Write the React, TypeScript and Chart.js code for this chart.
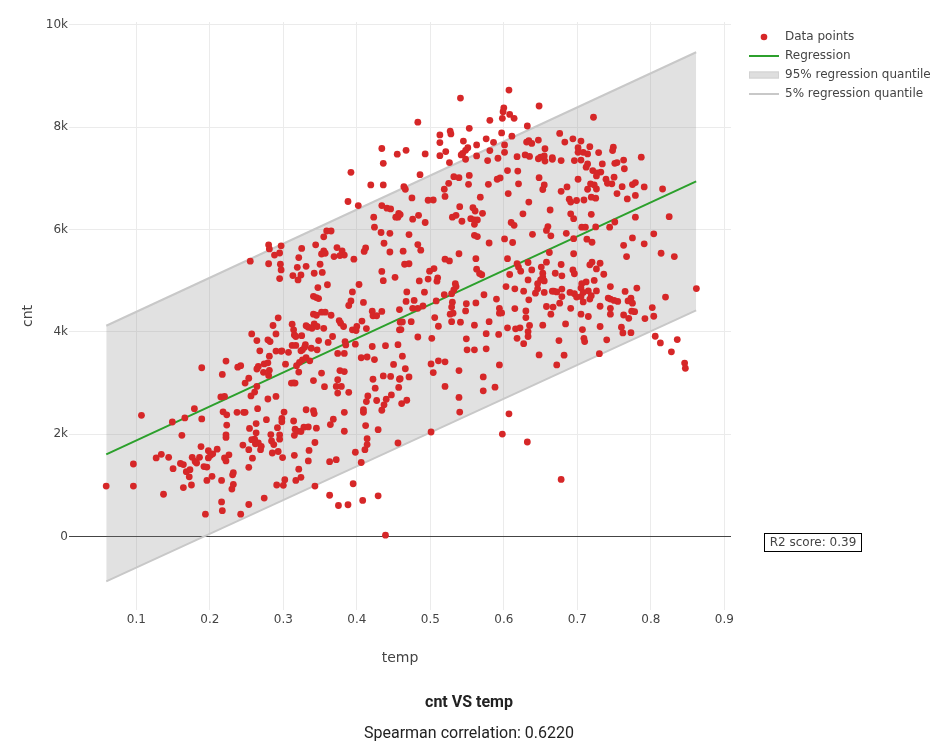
import React, { useEffect, useRef } from 'react'
import { Chart, registerables, ChartConfiguration, Plugin } from 'chart.js'

Chart.register(...registerables)

// [temp, cnt]
const points: [number, number][] = [
  [0.059, 990], [0.096, 990], [0.096, 1420], [0.107, 2370], [0.137, 830], [0.127, 1540], [0.134, 1610], [0.144, 1550],
  [0.149, 2240], [0.150, 1330], [0.162, 1980], [0.160, 1430], [0.164, 1410], [0.166, 2320], [0.164, 960], [0.168, 1270],
  [0.173, 1310], [0.172, 1170], [0.175, 1010], [0.176, 1550], [0.179, 2500], [0.180, 1470], [0.182, 1440], [0.186, 1550],
  [0.188, 1760], [0.189, 3300], [0.189, 2300], [0.192, 1370], [0.196, 1360], [0.194, 440], [0.196, 1100], [0.198, 1680],
  [0.198, 1540], [0.201, 1590], [0.203, 1180], [0.204, 1620], [0.210, 1710], [0.216, 1100], [0.216, 680], [0.217, 510],
  [0.217, 3170], [0.222, 3430], [0.215, 2730], [0.220, 2740], [0.218, 2440], [0.223, 2380], [0.220, 1540], [0.222, 1480],
  [0.223, 2180], [0.222, 1990], [0.222, 1940], [0.226, 1600], [0.230, 930], [0.231, 1210], [0.232, 1250], [0.232, 1020],
  [0.237, 2430], [0.238, 3310], [0.242, 3340], [0.242, 440], [0.245, 1790], [0.246, 2430],
  [0.255, 5380], [0.280, 5700], [0.281, 5620], [0.297, 5680], [0.288, 5500], [0.295, 5540], [0.280, 5330], [0.296, 5320],
  [0.297, 5210], [0.295, 5040], [0.313, 5100], [0.319, 5260], [0.325, 5630], [0.321, 5450], [0.331, 5280], [0.324, 5110],
  [0.320, 5015], [0.344, 5700], [0.355, 5580], [0.352, 5520], [0.357, 5535], [0.350, 5320], [0.353, 5160], [0.342, 5145],
  [0.355, 5855], [0.359, 5970], [0.365, 5970], [0.373, 5645], [0.380, 5580], [0.383, 5500], [0.369, 5470], [0.377, 5490],
  [0.396, 5420], [0.410, 5570], [0.412, 5640], [0.360, 4920], [0.347, 4865], [0.345, 4670], [0.341, 4695], [0.348, 4650],
  [0.433, 5940], [0.445, 5925], [0.437, 5730], [0.445, 5560], [0.434, 5180], [0.436, 5000], [0.452, 5065], [0.403, 4925],
  [0.394, 4780], [0.392, 4605], [0.389, 4515], [0.409, 4575], [0.421, 4405], [0.422, 4315], [0.427, 4315], [0.434, 4400],
  [0.458, 4435],
  [0.293, 4275], [0.286, 4125], [0.290, 3960], [0.257, 3960], [0.264, 3830], [0.268, 3630], [0.279, 3845], [0.282, 3810],
  [0.281, 3525], [0.290, 3625], [0.297, 3620], [0.307, 3600], [0.298, 3630], [0.312, 3735], [0.317, 3735], [0.314, 4040],
  [0.312, 4150], [0.315, 3940], [0.317, 3910], [0.325, 3925], [0.331, 4120], [0.334, 4090], [0.341, 4345], [0.345, 4325],
  [0.342, 4155], [0.339, 4070], [0.346, 4105], [0.352, 4385], [0.357, 4385], [0.365, 4325], [0.376, 4220], [0.378, 4170],
  [0.382, 4105], [0.367, 3910], [0.355, 4070], [0.338, 3680], [0.346, 3650], [0.348, 3830], [0.361, 3795], [0.330, 3750],
  [0.326, 3650], [0.329, 3700], [0.324, 3630], [0.331, 3495], [0.326, 3455], [0.322, 3405], [0.318, 3340], [0.321, 3215],
  [0.336, 3435], [0.303, 3370], [0.266, 3325], [0.264, 3275], [0.274, 3375], [0.279, 3395], [0.273, 3210], [0.280, 3150],
  [0.281, 3250], [0.253, 3095], [0.248, 3000], [0.264, 2935], [0.261, 2825], [0.256, 2750], [0.279, 2690], [0.290, 2740],
  [0.314, 3005], [0.311, 3000], [0.316, 3000], [0.341, 3050], [0.352, 3195], [0.356, 2930], [0.372, 2935], [0.379, 2935],
  [0.374, 2805], [0.374, 3065], [0.377, 3245], [0.383, 3225], [0.389, 2820], [0.374, 3580], [0.383, 3580], [0.384, 3810],
  [0.385, 3745], [0.398, 3760], [0.394, 4040], [0.400, 4105], [0.399, 4025], [0.407, 4210], [0.413, 4065], [0.406, 3495],
  [0.414, 3510], [0.424, 3460], [0.421, 3715], [0.439, 3730], [0.456, 3750], [0.450, 3365], [0.436, 3140], [0.446, 3130],
  [0.458, 3075], [0.457, 2915], [0.425, 2900], [0.422, 3075], [0.415, 2750], [0.413, 2640], [0.427, 2660], [0.434, 2470],
  [0.437, 2575], [0.440, 2685], [0.447, 2770], [0.458, 4040], [0.459, 4190],
  [0.248, 2430], [0.265, 2500], [0.254, 2115], [0.263, 2210], [0.277, 2285], [0.283, 1995], [0.295, 1990], [0.295, 1905],
  [0.292, 2130], [0.298, 2310], [0.298, 2245], [0.301, 2435], [0.314, 2260], [0.316, 2100], [0.319, 2060], [0.315, 1980],
  [0.324, 2055], [0.328, 2140], [0.334, 2145], [0.331, 2480], [0.341, 2460], [0.342, 2405], [0.345, 2120], [0.343, 1840],
  [0.335, 1685], [0.334, 1480], [0.315, 1590], [0.321, 1320], [0.324, 1160], [0.317, 1100], [0.300, 1005], [0.302, 1115],
  [0.291, 1010], [0.299, 1545], [0.293, 1665], [0.285, 1635], [0.287, 1800], [0.284, 1870], [0.269, 1700], [0.270, 1765],
  [0.266, 1830], [0.262, 1815], [0.261, 1905], [0.263, 2030], [0.257, 1895], [0.253, 1700], [0.258, 1535], [0.253, 1355],
  [0.253, 630], [0.274, 755], [0.343, 990], [0.363, 810], [0.375, 610], [0.388, 625], [0.395, 1035], [0.408, 710],
  [0.429, 800], [0.363, 1465], [0.372, 1505], [0.364, 2190], [0.368, 2295], [0.383, 2060], [0.383, 2430], [0.398, 1650],
  [0.406, 1450], [0.411, 1700], [0.414, 1800], [0.414, 1915], [0.412, 2170], [0.409, 2430], [0.409, 2480], [0.429, 2090],
  [0.456, 1830], [0.439, 30],
  [0.434, 7580], [0.455, 7470], [0.436, 7290], [0.392, 7115], [0.419, 6870], [0.436, 6870], [0.388, 6545], [0.402, 6465],
  [0.434, 6465], [0.441, 6415], [0.446, 6400], [0.457, 6315], [0.453, 6240], [0.456, 6240], [0.423, 6240], [0.424, 6045],
  [0.607, 8720], [0.541, 8565], [0.600, 8375], [0.599, 8300], [0.608, 8245], [0.614, 8170], [0.598, 8170], [0.648, 8410],
  [0.483, 8095], [0.581, 8130], [0.632, 8020], [0.527, 7920], [0.528, 7865], [0.513, 7845], [0.553, 7975], [0.597, 7885],
  [0.611, 7820], [0.513, 7695], [0.545, 7725], [0.576, 7770], [0.586, 7700], [0.601, 7650], [0.467, 7545], [0.493, 7475],
  [0.521, 7520], [0.513, 7440], [0.551, 7595], [0.548, 7545], [0.544, 7485], [0.542, 7455], [0.563, 7650], [0.563, 7435],
  [0.548, 7370], [0.526, 7305], [0.581, 7540], [0.578, 7345], [0.592, 7390], [0.601, 7505], [0.618, 7420], [0.629, 7455],
  [0.635, 7425], [0.631, 7705], [0.634, 7735], [0.638, 7680], [0.647, 7745], [0.656, 7575], [0.647, 7380], [0.650, 7410],
  [0.655, 7435], [0.656, 7335], [0.666, 7400], [0.666, 7370],
  [0.486, 7070], [0.464, 6835], [0.466, 6785], [0.475, 6615], [0.532, 7030], [0.539, 7010], [0.553, 7055], [0.552, 6880],
  [0.525, 6900], [0.519, 6785], [0.520, 6645], [0.591, 6980], [0.595, 7005], [0.605, 7150], [0.619, 7140], [0.620, 6890],
  [0.579, 6880], [0.606, 6700], [0.568, 6630], [0.648, 7010], [0.655, 6870], [0.653, 6780], [0.497, 6570], [0.504, 6575],
  [0.634, 6535], [0.663, 6380], [0.540, 6445], [0.558, 6425], [0.561, 6360], [0.571, 6315], [0.535, 6275], [0.530, 6240],
  [0.543, 6160], [0.555, 6210], [0.560, 6185], [0.564, 6185], [0.560, 6100], [0.626, 6305], [0.610, 6135], [0.614, 6080],
  [0.484, 6275], [0.476, 6200], [0.493, 6135], [0.459, 6290], [0.660, 6055], [0.658, 5980], [0.664, 5875], [0.639, 5905],
  [0.560, 5885], [0.564, 5860], [0.471, 5900], [0.580, 5735], [0.601, 5815], [0.612, 5745], [0.483, 5705], [0.487, 5595],
  [0.463, 5575], [0.539, 5525], [0.520, 5420], [0.526, 5385], [0.562, 5430], [0.605, 5430], [0.618, 5330], [0.620, 5265],
  [0.633, 5355], [0.623, 5185], [0.638, 5210], [0.662, 5550], [0.658, 5360], [0.651, 5265], [0.653, 5145], [0.653, 5070],
  [0.650, 5015], [0.655, 4995], [0.633, 5015], [0.608, 5120], [0.567, 5140], [0.570, 5115], [0.563, 5225], [0.465, 5320],
  [0.471, 5330], [0.505, 5235], [0.499, 5185], [0.510, 5055], [0.509, 4990], [0.497, 5030], [0.485, 4995], [0.534, 4940],
  [0.535, 4885], [0.532, 4820], [0.529, 4745], [0.519, 4725], [0.492, 4775], [0.468, 4780], [0.467, 4595], [0.478, 4615],
  [0.508, 4605], [0.549, 4550], [0.530, 4580], [0.562, 4565], [0.573, 4725], [0.590, 4640], [0.603, 4885], [0.615, 4840],
  [0.627, 4795], [0.643, 4755], [0.646, 4840], [0.646, 4940], [0.655, 4770], [0.666, 4795], [0.668, 4795], [0.634, 4625],
  [0.476, 4460], [0.483, 4460], [0.490, 4505], [0.529, 4485], [0.531, 4365], [0.527, 4345], [0.548, 4410], [0.462, 4195],
  [0.474, 4200], [0.506, 4280], [0.511, 4110], [0.529, 4200], [0.541, 4190], [0.560, 4130], [0.580, 4200], [0.594, 4460],
  [0.594, 4365], [0.597, 4370], [0.615, 4455], [0.630, 4410], [0.630, 4280], [0.658, 4495], [0.667, 4485], [0.664, 4345],
  [0.460, 4045], [0.483, 3900], [0.502, 3875], [0.549, 3865], [0.576, 3965], [0.593, 3950], [0.605, 4080], [0.616, 4060],
  [0.622, 4080], [0.635, 4125], [0.633, 4005], [0.633, 3910], [0.618, 3875], [0.627, 3770], [0.653, 4130], [0.550, 3650],
  [0.560, 3650], [0.576, 3670], [0.648, 3550], [0.462, 3525], [0.466, 3280], [0.471, 3120], [0.459, 3085], [0.461, 2600],
  [0.468, 2665], [0.501, 3375], [0.511, 3435], [0.520, 3415], [0.504, 3205], [0.539, 3245], [0.594, 3355], [0.572, 3120],
  [0.520, 2935], [0.572, 2850], [0.588, 2920], [0.539, 2720], [0.540, 2435], [0.607, 2400], [0.501, 2045], [0.598, 2005],
  [0.632, 1850],
  [0.722, 8190], [0.676, 7875], [0.683, 7705], [0.694, 7770], [0.705, 7725], [0.701, 7595], [0.701, 7505], [0.708, 7505],
  [0.714, 7475], [0.717, 7615], [0.729, 7500], [0.749, 7605], [0.748, 7540], [0.787, 7410], [0.678, 7345], [0.696, 7345],
  [0.705, 7355], [0.714, 7280], [0.712, 7215], [0.734, 7280], [0.751, 7290], [0.754, 7305], [0.763, 7355], [0.764, 7185],
  [0.721, 7150], [0.727, 7105], [0.732, 7120], [0.726, 7045], [0.750, 7020], [0.739, 6980], [0.741, 6900], [0.747, 6890],
  [0.701, 6980], [0.718, 6890], [0.723, 6870], [0.726, 6790], [0.714, 6785], [0.686, 6830], [0.678, 6745], [0.689, 6590],
  [0.691, 6535], [0.699, 6565], [0.709, 6575], [0.719, 6630], [0.725, 6610], [0.754, 6700], [0.761, 6835], [0.775, 6875],
  [0.779, 6915], [0.779, 6665], [0.768, 6595], [0.791, 6830], [0.816, 6790], [0.691, 6305], [0.695, 6210], [0.719, 6295],
  [0.779, 6240], [0.825, 6250], [0.706, 6045], [0.711, 6045], [0.725, 6050], [0.744, 6045], [0.751, 6145], [0.685, 5925],
  [0.695, 5820], [0.713, 5810], [0.720, 5750], [0.775, 5835], [0.763, 5690], [0.791, 5720], [0.804, 5915], [0.767, 5470],
  [0.814, 5535], [0.832, 5470], [0.695, 5525], [0.678, 5315], [0.717, 5310], [0.720, 5360], [0.731, 5340], [0.694, 5210],
  [0.696, 5135], [0.670, 5145], [0.679, 5095], [0.726, 5230], [0.736, 5125], [0.723, 5005], [0.712, 4975], [0.706, 4940],
  [0.705, 4855], [0.715, 4800], [0.726, 4800], [0.745, 4885], [0.765, 4790], [0.781, 4855], [0.862, 4845], [0.672, 4780],
  [0.679, 4835], [0.690, 4770], [0.696, 4745], [0.699, 4680], [0.705, 4690], [0.708, 4770], [0.717, 4640], [0.719, 4705],
  [0.679, 4690], [0.742, 4660], [0.745, 4640], [0.750, 4615], [0.755, 4595], [0.769, 4605], [0.773, 4660], [0.775, 4560],
  [0.820, 4680], [0.676, 4560], [0.708, 4585],
  [0.691, 4460], [0.731, 4500], [0.745, 4460], [0.745, 4345], [0.763, 4330], [0.770, 4265], [0.774, 4405], [0.778, 4395],
  [0.802, 4475], [0.804, 4305], [0.792, 4260], [0.705, 4345], [0.715, 4300], [0.684, 4155], [0.675, 3830], [0.707, 4045],
  [0.709, 3875], [0.710, 3810], [0.731, 4105], [0.760, 4090], [0.762, 3980], [0.773, 3985], [0.740, 3845], [0.682, 3545],
  [0.730, 3575], [0.672, 3355], [0.806, 3915], [0.813, 3785], [0.836, 3850], [0.828, 3610], [0.846, 3390], [0.847, 3290],
  [0.678, 1120],
]

const lineTemp = [0.0591, 0.8617]
const regressionCnt = [1607, 6937]
const upperQuantileCnt = [4120, 9460]
const lowerQuantileCnt = [-870, 4420]

const xTickValues = [0.1, 0.2, 0.3, 0.4, 0.5, 0.6, 0.7, 0.8, 0.9]
const yTickValues = [0, 2000, 4000, 6000, 8000, 10000]

const legendLabels = ['Data points', 'Regression', '95% regression quantile', '5% regression quantile']
const r2Label = 'R2 score: 0.39'
const titleText = 'cnt VS temp'
const subtitleText = 'Spearman correlation: 0.6220'

const RED = '#d62728'
const GREEN = '#2ca02c'
const BAND_LINE = '#c8c8c8'
const BAND_FILL = 'rgba(128, 128, 128, 0.24)'
const FONT = '"DejaVu Sans", Verdana, sans-serif'

const toXY = (ys: number[]) => lineTemp.map((x, i) => ({ x, y: ys[i] }))

// axis titles, legend, R2 box and the titles under the plot
const overlayPlugin: Plugin<'scatter'> = {
  id: 'overlay',
  afterDraw(chart) {
    const { ctx, chartArea } = chart
    ctx.save()
    ctx.fillStyle = '#444'
    ctx.textBaseline = 'middle'
    ctx.font = `14px ${FONT}`
    ctx.textAlign = 'center'
    ctx.fillText('temp', (chartArea.left + chartArea.right) / 2, 658)
    ctx.save()
    ctx.translate(28, (chartArea.top + chartArea.bottom) / 2)
    ctx.rotate(-Math.PI / 2)
    ctx.fillText('cnt', 0, 0)
    ctx.restore()

    // legend
    const lx = 749
    const ly = 37
    const step = 19
    ctx.font = `12px ${FONT}`
    ctx.textAlign = 'left'
    legendLabels.forEach((label, i) => {
      const y = ly + i * step
      if (i === 0) {
        ctx.fillStyle = RED
        ctx.beginPath()
        ctx.arc(lx + 15, y, 3.3, 0, Math.PI * 2)
        ctx.fill()
      } else if (i === 1) {
        ctx.strokeStyle = GREEN
        ctx.lineWidth = 2
        ctx.beginPath()
        ctx.moveTo(lx, y)
        ctx.lineTo(lx + 30, y)
        ctx.stroke()
      } else if (i === 2) {
        ctx.fillStyle = '#dedede'
        ctx.fillRect(lx, y - 3.5, 30, 7)
        ctx.strokeStyle = '#d2d2d2'
        ctx.lineWidth = 1
        ctx.strokeRect(lx + 0.5, y - 3, 29, 6)
      } else {
        ctx.strokeStyle = BAND_LINE
        ctx.lineWidth = 2
        ctx.beginPath()
        ctx.moveTo(lx, y)
        ctx.lineTo(lx + 30, y)
        ctx.stroke()
      }
      ctx.fillStyle = '#444'
      ctx.fillText(label, lx + 36, y)
    })

    // R2 annotation
    ctx.strokeStyle = '#000'
    ctx.lineWidth = 1
    ctx.strokeRect(764.5, 533.5, 97, 18)
    ctx.fillStyle = '#444'
    ctx.textAlign = 'center'
    ctx.fillText(r2Label, 813, 543)

    // titles
    ctx.fillStyle = '#222'
    ctx.font = `bold 16px Roboto, sans-serif`
    ctx.fillText(titleText, 469, 703)
    ctx.font = `16px Roboto, sans-serif`
    ctx.fillText(subtitleText, 469, 734)
    ctx.restore()
  },
}

const App: React.FC = () => {
  const chartRef = useRef<HTMLCanvasElement | null>(null)
  const chartInstance = useRef<Chart | null>(null)

  useEffect(() => {
    if (!chartRef.current) return
    if (chartInstance.current) chartInstance.current.destroy()
    const ctx = chartRef.current.getContext('2d')
    if (!ctx) return

    const config: ChartConfiguration<'scatter'> = {
      type: 'scatter',
      data: {
        datasets: [
          {
            label: legendLabels[0],
            data: points.map(([x, y]) => ({ x, y })),
            pointBackgroundColor: RED,
            backgroundColor: RED,
            pointBorderWidth: 0,
            pointRadius: 3.4,
            pointHoverRadius: 3.4,
            order: 0,
          },
          {
            label: legendLabels[1],
            data: toXY(regressionCnt),
            showLine: true,
            borderColor: GREEN,
            borderWidth: 2,
            pointRadius: 0,
            order: 1,
          },
          {
            label: legendLabels[2],
            data: toXY(upperQuantileCnt),
            showLine: true,
            borderColor: BAND_LINE,
            borderWidth: 2,
            pointRadius: 0,
            fill: 3,
            backgroundColor: BAND_FILL,
            order: 2,
          },
          {
            label: legendLabels[3],
            data: toXY(lowerQuantileCnt),
            showLine: true,
            borderColor: BAND_LINE,
            borderWidth: 2,
            pointRadius: 0,
            fill: false,
            order: 3,
          },
        ],
      },
      options: {
        responsive: false,
        animation: false,
        events: [],
        layout: { padding: { top: 22, right: 220, bottom: 0, left: 0 } },
        plugins: {
          legend: { display: false },
          tooltip: { enabled: false },
          filler: { drawTime: 'beforeDatasetsDraw' },
        },
        scales: {
          x: {
            type: 'linear',
            min: 0.0084,
            max: 0.9091,
            afterBuildTicks: (scale) => {
              scale.ticks = xTickValues.map((value) => ({ value }))
            },
            afterFit: (scale) => {
              scale.height = 134
            },
            ticks: {
              padding: 3,
              color: '#444',
              font: { family: FONT, size: 12 },
              callback: (v) => String(v),
            },
            grid: { color: '#ebebeb', drawTicks: false },
            border: { display: false },
          },
          y: {
            type: 'linear',
            min: -1430,
            max: 10050,
            afterBuildTicks: (scale) => {
              scale.ticks = yTickValues.map((value) => ({ value }))
            },
            afterFit: (scale) => {
              scale.width = 69
            },
            ticks: {
              padding: 1,
              color: '#444',
              font: { family: FONT, size: 12 },
              callback: (v) => (Number(v) === 0 ? '0' : `${Number(v) / 1000}k`),
            },
            grid: {
              color: (c) => (c.tick && c.tick.value === 0 ? '#444444' : '#ebebeb'),
              drawTicks: false,
            },
            border: { display: false },
          },
        },
      },
      plugins: [overlayPlugin],
    }

    chartInstance.current = new Chart(ctx, config)

    return () => {
      if (chartInstance.current) {
        chartInstance.current.destroy()
        chartInstance.current = null
      }
    }
  }, [])

  return (
    <div style={{ position: 'absolute', left: 0, top: 0, width: 951, height: 744, background: '#fff' }}>
      <canvas ref={chartRef} width={951} height={744} style={{ display: 'block', width: 951, height: 744 }} />
    </div>
  )
}

export default App
